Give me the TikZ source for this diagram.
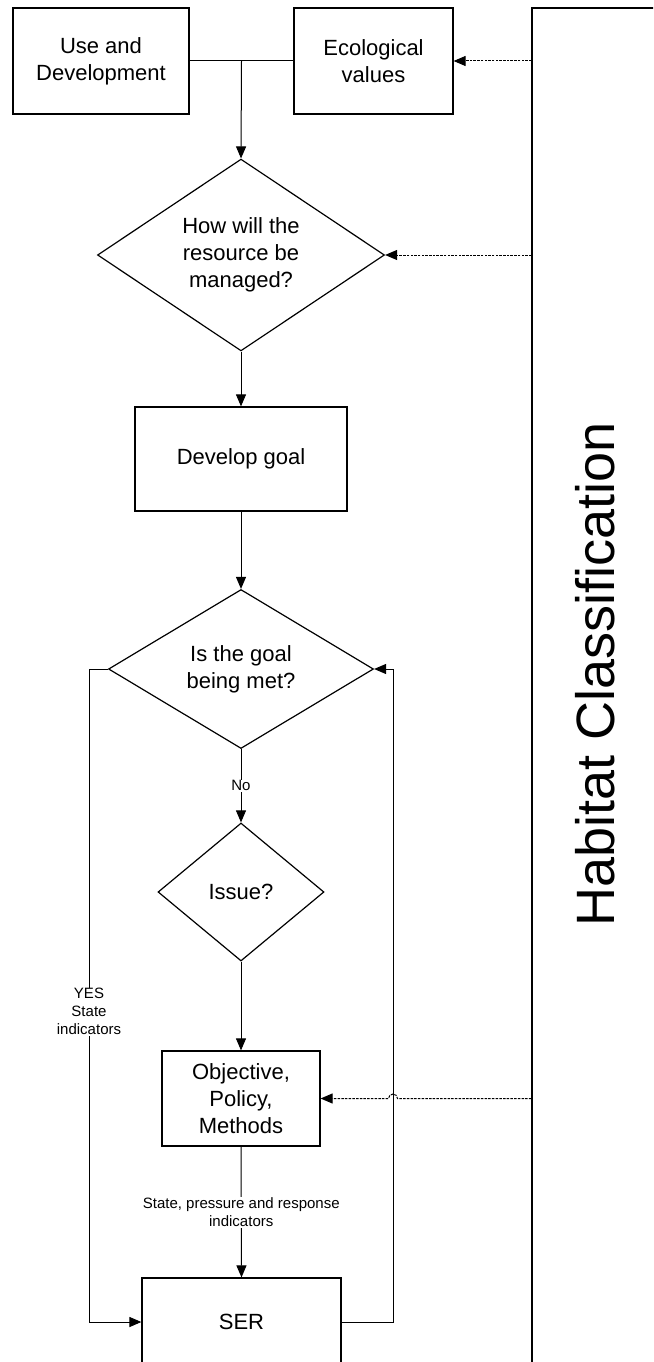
\documentclass[tikz,border=0pt]{standalone}
\usepackage{fontspec}
\setmainfont{Liberation Sans}
\usetikzlibrary{shapes.geometric,arrows.meta,calc}
\begin{document}
\begin{tikzpicture}[x=1pt,y=-1pt,line width=1pt,
	>={Triangle[length=12pt,width=10pt]},
	box/.style={rectangle,draw,line width=1.2pt,align=center,inner sep=0pt,font=\fontsize{22}{27}\selectfont},
	decision/.style={diamond,draw,line width=1.2pt,align=center,inner sep=0pt,font=\fontsize{22}{27}\selectfont},
	tag/.style={fill=white,align=center,inner sep=1pt,font=\fontsize{15}{18}\selectfont},
	feed/.style={->,dash pattern=on 2.5pt off 1.2pt}]
	\useasboundingbox (0,0) rectangle (653,1362);
	\clip (0,0) rectangle (653,1362);
	% boxes and decisions
	\node (ud)    at (101, 61)    [box, minimum width=176, minimum height=106]	{Use and\\Development};
	\node (ev)    at (373.5, 61)  [box, minimum width=159, minimum height=106]	{Ecological\\values};
	\node (m1)    at (241, 255)   [decision, minimum width=287, minimum height=176]	{How will the\\resource be\\managed?};
	\node (goal)  at (241, 459)   [box, minimum width=212, minimum height=104]	{Develop goal};
	\node (met)   at (241, 669)   [decision, minimum width=265, minimum height=159]	{Is the goal\\being met?};
	\node (issue) at (241, 892)   [decision, minimum width=166, minimum height=138]	{Issue?};
	\node (obj)   at (241, 1098.5) [box, minimum width=158, minimum height=95]	{Objective,\\Policy,\\Methods};
	\node (ser)   at (241.5, 1322) [box, minimum width=199, minimum height=88]	{SER};
	\node (hab)   at (616, 704)   [rectangle, draw, line width=1.2pt, minimum width=168, minimum height=1392]	{};
	\node (habtxt) at (595, 674)  [rotate=90, font=\fontsize{54}{60}\selectfont]	{Habitat Classification};
	\coordinate (jn)   at ($(ud.east)!0.5!(ev.west)$);
	\coordinate (yesx) at (89, 0);
	\coordinate (retx) at (393, 0);
	% main flow
	\draw (ud.east) -- (ev.west);
	\draw[->] (jn) -- (m1.north);
	\draw[->] (m1.south) -- (goal.north);
	\draw[->] (goal.south) -- (met.north);
	\draw[->] (met.south) -- node[tag] {No} (issue.north);
	\draw[->] (issue.south) -- (obj.north);
	\draw[->] (obj.south) -- node[tag] {State, pressure and response\\indicators} (ser.north);
	\draw[->] (met.west) -- (met.west -| yesx) -- node[tag, pos=0.525] {YES\\State\\indicators} (ser.west -| yesx) -- (ser.west);
	\draw[->] (ser.east) -- (ser.east -| retx) -- (met.east -| retx) -- (met.east);
	% habitat feeds
	\draw[feed] (hab.west |- ev.east) -- (ev.east);
	\draw[feed] (hab.west |- m1.east) -- (m1.east);
	\draw[feed] (hab.west |- obj.east) -- ($(retx |- obj.east)+(4.5,0)$) arc[start angle=0, end angle=-180, radius=4.5] -- (obj.east);
\end{tikzpicture}
\end{document}
